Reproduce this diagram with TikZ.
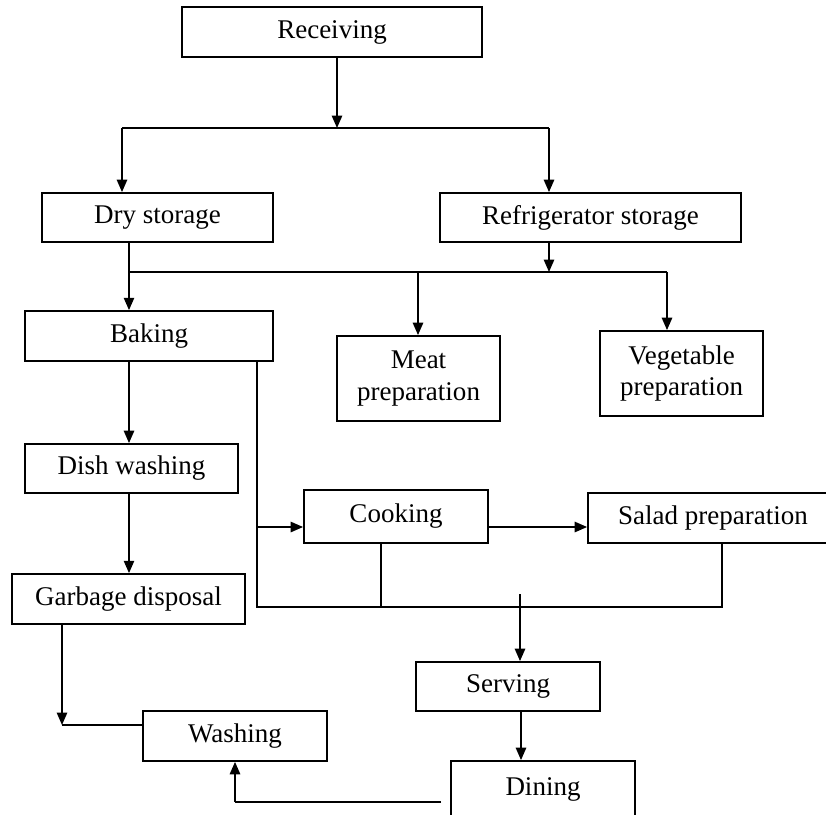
\documentclass[tikz,border=0pt]{standalone}
\usepackage{fontspec}
\setmainfont{Liberation Serif}
\usetikzlibrary{arrows.meta}
\begin{document}
\begin{tikzpicture}[x=0.4444pt, y=-0.4444pt,
        box/.style={draw, line width=0.8pt, inner sep=0pt, align=center, font=\fontsize{12}{14}\selectfont},
        link/.style={line width=0.7pt},
        arr/.style={link, -{Triangle[length=5.5pt,width=4.6pt]}}]
        \useasboundingbox (0,0) rectangle (826,814);
        \clip (0,0) rectangle (826,814);

        \node[box, minimum width=133.3pt, minimum height=22.2pt] (recv) at (332, 32) {Receiving};
        \node[box, minimum width=102.7pt, minimum height=21.8pt] (dry) at (157.5, 217.5) {Dry storage};
        \node[box, minimum width=133.8pt, minimum height=21.8pt] (fridge) at (590.5, 217.5) {Refrigerator storage};
        \node[box, minimum width=110.2pt, minimum height=22.2pt] (baking) at (149, 336) {Baking};
        \node[box, minimum width=72.4pt, minimum height=37.8pt] (meat) at (418.5, 378.5) {Meat\\preparation};
        \node[box, minimum width=72.4pt, minimum height=37.8pt] (veg) at (681.5, 373.5) {Vegetable\\preparation};
        \node[box, minimum width=94.7pt, minimum height=21.8pt] (dish) at (131.5, 468.5) {Dish washing};
        \node[box, minimum width=81.8pt, minimum height=23.6pt] (cook) at (396, 516.5) {Cooking};
        \node[box, minimum width=111.1pt, minimum height=22.2pt] (salad) at (713, 518) {Salad preparation};
        \node[box, minimum width=103.6pt, minimum height=22.2pt] (garbage) at (128.5, 599) {Garbage disposal};
        \node[box, minimum width=81.8pt, minimum height=21.8pt] (serving) at (508, 686.5) {Serving};
        \node[box, minimum width=81.8pt, minimum height=22.2pt] (washing) at (235, 736) {Washing};
        \node[box, minimum width=81.8pt, minimum height=24.9pt] (dining) at (543, 789) {Dining};

        % receiving splits to the two stores
        \coordinate (r0) at (337, 128);
        \coordinate (r1) at (122, 128);
        \coordinate (r2) at (549, 128);
        \draw[arr] (recv.south -| r0) -- (r0);
        \draw[link] (r1) -- (r2);
        \draw[arr] (r1) -- (r1 |- dry.north);
        \draw[arr] (r2) -- (r2 |- fridge.north);

        % stores feed the preparation areas
        \coordinate (s1) at (129, 272);
        \coordinate (s2) at (418, 272);
        \coordinate (s3) at (667, 272);
        \draw[link] (s1 |- dry.south) -- (s1) -- (s3);
        \draw[arr] (fridge.south -| r2) -- (r2 |- s1);
        \draw[arr] (s1) -- (s1 |- baking.north);
        \draw[arr] (s2) -- (s2 |- meat.north);
        \draw[arr] (s3) -- (s3 |- veg.north);

        % left column
        \draw[arr] (baking.south -| s1) -- (s1 |- dish.north);
        \draw[arr] (dish.south -| s1) -- (s1 |- garbage.north);

        % cooking line
        \coordinate (c0) at (257, 527);
        \coordinate (c1) at (257, 607);
        \coordinate (c2) at (381, 607);
        \coordinate (c3) at (722, 607);
        \draw[link] (baking.south -| c0) -- (c1) -- (c3) -- (c3 |- salad.south);
        \draw[link] (cook.south -| c2) -- (c2);
        \draw[arr] (c0) -- (c0 -| cook.west);
        \draw[arr] (cook.east |- c0) -- (salad.west |- c0);

        % serving and dining
        \coordinate (v0) at (520, 594);
        \coordinate (v1) at (521, 0);
        \draw[arr] (v0) -- (v0 |- serving.north);
        \draw[arr] (serving.south -| v1) -- (v1 |- dining.north);

        % back to washing
        \coordinate (w0) at (62, 725);
        \coordinate (w1) at (235, 802);
        \draw[arr] (garbage.south -| w0) -- (w0);
        \draw[link] (w0) -- (w0 -| washing.west);
        \draw[link, shorten <=4pt] (dining.west |- w1) -- (w1);
        \draw[arr] (w1) -- (washing.south);

\end{tikzpicture}
\end{document}
